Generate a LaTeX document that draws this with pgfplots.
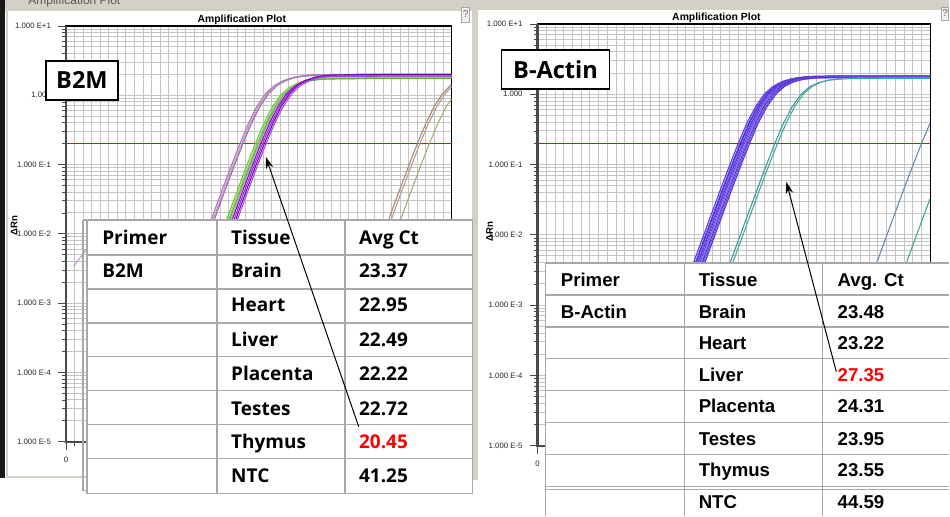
\documentclass[border=0pt]{standalone}
\usepackage{fontspec}
\setmainfont{Liberation Sans}
\newfontfamily\osans{Open Sans}
\usepackage{pgfplots}
\pgfplotsset{compat=1.18}
\usetikzlibrary{arrows.meta}

\definecolor{gridgrey}{HTML}{C4C4C4}
\definecolor{face}{HTML}{D4D0C8}
\definecolor{tabline}{HTML}{A8A8A8}
\definecolor{axisdark}{HTML}{4A4A4A}
\definecolor{thA}{HTML}{A878B0}
\definecolor{thB}{HTML}{C098C8}
\definecolor{thC}{HTML}{9868A4}
\definecolor{grA}{HTML}{6CC43C}
\definecolor{grB}{HTML}{8CD25C}
\definecolor{grC}{HTML}{58B030}
\definecolor{gyA}{HTML}{B0A8B8}
\definecolor{puA}{HTML}{8A10C8}
\definecolor{puB}{HTML}{9B2FD6}
\definecolor{puC}{HTML}{7A06B8}
\definecolor{puD}{HTML}{A64AD8}
\definecolor{brA}{HTML}{A88878}
\definecolor{brB}{HTML}{B89A90}
\definecolor{olA}{HTML}{A8B070}
\definecolor{blA}{HTML}{5B3BE0}
\definecolor{blB}{HTML}{6A48EC}
\definecolor{blC}{HTML}{4A2CD0}
\definecolor{blD}{HTML}{7A58F0}
\definecolor{blE}{HTML}{5540D8}
\definecolor{blF}{HTML}{6E3EE0}
\definecolor{blG}{HTML}{8066F0}
\definecolor{blH}{HTML}{4838C8}
\definecolor{blI}{HTML}{7050E8}
\definecolor{blJ}{HTML}{5F30D8}
\definecolor{tlA}{HTML}{3A9C9A}
\definecolor{tlB}{HTML}{48A8A0}
\definecolor{slA}{HTML}{6A88A8}
\definecolor{tlC}{HTML}{40A890}

\begin{document}
\begin{tikzpicture}
% ---------------- window chrome ----------------
\begin{scope}[x=0.5pt,y=0.5pt]
  \fill[white] (0,0) rectangle (950,516);
  \fill[black!90] (0,38) rectangle (5,516);
  \fill[face] (5,505) rectangle (472,516);
  \begin{scope}
    \clip (5,505) rectangle (472,516);
    \node[overlay, anchor=base west, inner sep=0pt, font=\fontsize{6}{6}\selectfont, text=black!65] at (28,511) {Amplification Plot};
  \end{scope}
  \draw[face, line width=1pt] (7,38) -- (7,505);
  \draw[face, line width=1pt] (7,38.5) -- (472,38.5);
  \fill[black!6] (462,494) rectangle (470,509);
  \draw[black!35, line width=0.4pt] (462,494) rectangle (470,509);
  \node[overlay, inner sep=0pt, font=\fontsize{5}{5}\selectfont, text=black!60] at (466,501.5) {?};
  \fill[face] (472,36) rectangle (478,516);
  \fill[face] (478,506) rectangle (950,516);
  \fill[black!6] (942,496) rectangle (949.6,509);
  \draw[black!35, line width=0.4pt] (942,496) rectangle (949.6,509);
  \node[overlay, inner sep=0pt, font=\fontsize{5}{5}\selectfont, text=black!60] at (946,502.5) {?};
\end{scope}

% ---------------- B2M amplification plot ----------------
\begin{semilogyaxis}[
    scale only axis, anchor=south west, at={(33pt,37pt)}, width=193pt, height=208pt,
    xmin=0, xmax=45, ymin=1e-5, ymax=10,
    xtick={0}, xticklabels={0},
    minor xtick={1,2,...,45},
    ytick={1e-5,1e-4,1e-3,1e-2,1e-1,1,10},
    yticklabels={1.000 E-5,1.000 E-4,1.000 E-3,1.000 E-2,1.000 E-1,1.000,1.000 E+1},
    minor ytick={2e-5,3e-5,4e-5,5e-5,6e-5,7e-5,8e-5,9e-5,2e-4,3e-4,4e-4,5e-4,6e-4,7e-4,8e-4,9e-4,2e-3,3e-3,4e-3,5e-3,6e-3,7e-3,8e-3,9e-3,2e-2,3e-2,4e-2,5e-2,6e-2,7e-2,8e-2,9e-2,0.2,0.3,0.4,0.5,0.6,0.7,0.8,0.9,2,3,4,5,6,7,8,9},
    xmajorgrids=true, xminorgrids=true, ymajorgrids=true, yminorgrids=true,
    major grid style={gridgrey, line width=0.5pt},
    minor grid style={gridgrey, line width=0.5pt},
    tick pos=left, tick align=outside,
    major tick length=4pt, minor tick length=2pt,
    tick style={axisdark, line width=0.4pt},
    tick label style={font=\fontsize{3.9}{4}\selectfont, text=black!85},
    axis line style={black, line width=0.6pt},
    clip mode=individual,
    every axis plot/.append style={line width=0.55pt, mark=none},
  ]
\addplot[draw=red, color=red, line width=0.8pt] coordinates {(0,0.2)(45,0.2)};
\addplot[color=thC] coordinates {(8.65,1.85e-5)(10.65,8.9e-5)(12.65,4.2e-4)(14.65,2.03e-3)(16.65,9.66e-3)(18.65,0.0454)(19.65,0.0966)(20.65,0.2)(21.65,0.392)(22.65,0.695)(23.65,1.06)(24.65,1.38)(25.65,1.62)(26.65,1.8)(27.65,1.9)(28.65,1.96)(30.65,1.99)(34.65,2.01)(45,2.02)};
\addplot[color=thB] coordinates {(8.5,1.85e-5)(10.5,8.9e-5)(12.5,4.2e-4)(14.5,2.03e-3)(16.5,9.66e-3)(18.5,0.0454)(19.5,0.0966)(20.5,0.2)(21.5,0.392)(22.5,0.695)(23.5,1.06)(24.5,1.36)(25.5,1.6)(26.5,1.76)(27.5,1.85)(28.5,1.9)(30.5,1.94)(34.5,1.96)(45,1.97)};
\addplot[color=thA] coordinates {(8.3,1.85e-5)(10.3,8.9e-5)(12.3,4.2e-4)(14.3,2.03e-3)(16.3,9.66e-3)(18.3,0.0454)(19.3,0.0966)(20.3,0.2)(21.3,0.392)(22.3,0.695)(23.3,1.06)(24.3,1.37)(25.3,1.61)(26.3,1.78)(27.3,1.88)(28.3,1.93)(30.3,1.97)(34.3,1.99)(45,2.0)};
\addplot[color=thB] coordinates {(0.9,0.0034)(2.5,0.0062)};
\addplot[color=grA] coordinates {(10.1,1.85e-5)(12.1,8.9e-5)(14.1,4.2e-4)(16.1,2.03e-3)(18.1,9.66e-3)(20.1,0.0454)(21.1,0.0966)(22.1,0.2)(23.1,0.392)(24.1,0.68)(25.1,1.02)(26.1,1.31)(27.1,1.5)(28.1,1.62)(29.1,1.69)(30.1,1.72)(32.1,1.74)(36.1,1.75)(45,1.76)};
\addplot[color=grB] coordinates {(10.3,1.85e-5)(12.3,8.9e-5)(14.3,4.2e-4)(16.3,2.03e-3)(18.3,9.66e-3)(20.3,0.0454)(21.3,0.0966)(22.3,0.2)(23.3,0.392)(24.3,0.68)(25.3,1.03)(26.3,1.33)(27.3,1.54)(28.3,1.66)(29.3,1.73)(30.3,1.76)(32.3,1.78)(36.3,1.79)(45,1.8)};
\addplot[color=grC] coordinates {(10.45,1.85e-5)(12.45,8.9e-5)(14.45,4.2e-4)(16.45,2.03e-3)(18.45,9.66e-3)(20.45,0.0454)(21.45,0.0966)(22.45,0.2)(23.45,0.392)(24.45,0.68)(25.45,1.02)(26.45,1.3)(27.45,1.5)(28.45,1.61)(29.45,1.68)(30.45,1.71)(32.45,1.73)(36.45,1.74)(45,1.74)};
\addplot[color=gyA] coordinates {(10.6,1.85e-5)(12.6,8.9e-5)(14.6,4.2e-4)(16.6,2.03e-3)(18.6,9.66e-3)(20.6,0.0454)(21.6,0.0966)(22.6,0.2)(23.6,0.392)(24.6,0.69)(25.6,1.04)(26.6,1.35)(27.6,1.57)(28.6,1.71)(29.6,1.78)(30.6,1.82)(32.6,1.84)(36.6,1.85)(45,1.85)};
\addplot[color=puA] coordinates {(10.75,1.85e-5)(12.75,8.9e-5)(14.75,4.2e-4)(16.75,2.03e-3)(18.75,9.66e-3)(20.75,0.0454)(21.75,0.0966)(22.75,0.2)(23.75,0.392)(24.75,0.69)(25.75,1.05)(26.75,1.37)(27.75,1.6)(28.75,1.75)(29.75,1.83)(30.75,1.87)(32.75,1.89)(36.75,1.9)(45,1.9)};
\addplot[color=puB] coordinates {(10.95,1.85e-5)(12.95,8.9e-5)(14.95,4.2e-4)(16.95,2.03e-3)(18.95,9.66e-3)(20.95,0.0454)(21.95,0.0966)(22.95,0.2)(23.95,0.392)(24.95,0.69)(25.95,1.06)(26.95,1.39)(27.95,1.63)(28.95,1.79)(29.95,1.87)(30.95,1.91)(32.95,1.93)(36.95,1.94)(45,1.94)};
\addplot[color=puC] coordinates {(11.15,1.85e-5)(13.15,8.9e-5)(15.15,4.2e-4)(17.15,2.03e-3)(19.15,9.66e-3)(21.15,0.0454)(22.15,0.0966)(23.15,0.2)(24.15,0.392)(25.15,0.7)(26.15,1.07)(27.15,1.41)(28.15,1.66)(29.15,1.83)(30.15,1.92)(31.15,1.96)(33.15,1.98)(37.15,1.99)(45,1.99)};
\addplot[color=puD] coordinates {(11.35,1.85e-5)(13.35,8.9e-5)(15.35,4.2e-4)(17.35,2.03e-3)(19.35,9.66e-3)(21.35,0.0454)(22.35,0.0966)(23.35,0.2)(24.35,0.392)(25.35,0.69)(26.35,1.05)(27.35,1.37)(28.35,1.61)(29.35,1.77)(30.35,1.85)(31.35,1.89)(33.35,1.91)(37.35,1.92)(45,1.92)};
\addplot[color=brA] coordinates {(29,1.85e-5)(31,8.9e-5)(33,4.2e-4)(35,2.03e-3)(37,9.66e-3)(39,0.0454)(40,0.0966)(41,0.2)(42,0.392)(43,0.695)(44,1.077)(45,1.436)};
\addplot[color=brB] coordinates {(29.3,1.85e-5)(31.3,8.9e-5)(33.3,4.2e-4)(35.3,2.03e-3)(37.3,9.66e-3)(39.3,0.0454)(40.3,0.0966)(41.3,0.2)(42.3,0.392)(43.3,0.695)(44.3,1.077)(45,1.33)};
\addplot[color=olA] coordinates {(30.4,1.85e-5)(32.4,8.9e-5)(34.4,4.2e-4)(36.4,2.03e-3)(38.4,9.66e-3)(40.4,0.0454)(41.4,0.0966)(42.4,0.2)(43.4,0.392)(44.4,0.695)(45,0.88)};
\draw[axisdark, line width=1.1pt] (rel axis cs:0,1) -- (rel axis cs:0,0) -- (rel axis cs:1,0);
\end{semilogyaxis}

% ---------------- B-Actin amplification plot ----------------
\begin{semilogyaxis}[
    scale only axis, anchor=south west, at={(269pt,35pt)}, width=196.5pt, height=211pt,
    xmin=0, xmax=45, ymin=1e-5, ymax=10,
    xtick={0}, xticklabels={0},
    minor xtick={1,2,...,45},
    ytick={1e-5,1e-4,1e-3,1e-2,1e-1,1,10},
    yticklabels={1.000 E-5,1.000 E-4,1.000 E-3,1.000 E-2,1.000 E-1,1.000,1.000 E+1},
    minor ytick={2e-5,3e-5,4e-5,5e-5,6e-5,7e-5,8e-5,9e-5,2e-4,3e-4,4e-4,5e-4,6e-4,7e-4,8e-4,9e-4,2e-3,3e-3,4e-3,5e-3,6e-3,7e-3,8e-3,9e-3,2e-2,3e-2,4e-2,5e-2,6e-2,7e-2,8e-2,9e-2,0.2,0.3,0.4,0.5,0.6,0.7,0.8,0.9,2,3,4,5,6,7,8,9},
    xmajorgrids=true, xminorgrids=true, ymajorgrids=true, yminorgrids=true,
    major grid style={gridgrey, line width=0.5pt},
    minor grid style={gridgrey, line width=0.5pt},
    tick pos=left, tick align=outside,
    major tick length=4pt, minor tick length=2pt,
    tick style={axisdark, line width=0.4pt},
    tick label style={font=\fontsize{3.9}{4}\selectfont, text=black!85},
    axis line style={black, line width=0.6pt},
    clip mode=individual,
    every axis plot/.append style={line width=0.55pt, mark=none},
  ]
\addplot[draw=red, color=red, line width=0.8pt] coordinates {(0,0.2)(45,0.2)};
\addplot[color=blA] coordinates {(11,1.85e-5)(13,8.9e-5)(15,4.2e-4)(17,2.03e-3)(19,9.66e-3)(21,0.0454)(22,0.0966)(23,0.2)(24,0.392)(25,0.67)(26,1.01)(27,1.3)(28,1.51)(29,1.64)(30,1.71)(31,1.75)(33,1.77)(37,1.78)(45,1.79)};
\addplot[color=blB] coordinates {(11.2,1.85e-5)(13.2,8.9e-5)(15.2,4.2e-4)(17.2,2.03e-3)(19.2,9.66e-3)(21.2,0.0454)(22.2,0.0966)(23.2,0.2)(24.2,0.392)(25.2,0.68)(26.2,1.02)(27.2,1.32)(28.2,1.54)(29.2,1.67)(30.2,1.74)(31.2,1.78)(33.2,1.8)(37.2,1.81)(45,1.81)};
\addplot[color=blC] coordinates {(11.3,1.85e-5)(13.3,8.9e-5)(15.3,4.2e-4)(17.3,2.03e-3)(19.3,9.66e-3)(21.3,0.0454)(22.3,0.0966)(23.3,0.2)(24.3,0.392)(25.3,0.67)(26.3,1.0)(27.3,1.29)(28.3,1.49)(29.3,1.62)(30.3,1.69)(31.3,1.73)(33.3,1.75)(37.3,1.76)(45,1.76)};
\addplot[color=blD] coordinates {(11.45,1.85e-5)(13.45,8.9e-5)(15.45,4.2e-4)(17.45,2.03e-3)(19.45,9.66e-3)(21.45,0.0454)(22.45,0.0966)(23.45,0.2)(24.45,0.392)(25.45,0.67)(26.45,1.0)(27.45,1.28)(28.45,1.48)(29.45,1.6)(30.45,1.67)(31.45,1.71)(33.45,1.73)(37.45,1.74)(45,1.74)};
\addplot[color=blE] coordinates {(11.55,1.85e-5)(13.55,8.9e-5)(15.55,4.2e-4)(17.55,2.03e-3)(19.55,9.66e-3)(21.55,0.0454)(22.55,0.0966)(23.55,0.2)(24.55,0.392)(25.55,0.68)(26.55,1.03)(27.55,1.33)(28.55,1.55)(29.55,1.69)(30.55,1.76)(31.55,1.8)(33.55,1.82)(37.55,1.83)(45,1.83)};
\addplot[color=blF] coordinates {(11.7,1.85e-5)(13.7,8.9e-5)(15.7,4.2e-4)(17.7,2.03e-3)(19.7,9.66e-3)(21.7,0.0454)(22.7,0.0966)(23.7,0.2)(24.7,0.392)(25.7,0.67)(26.7,1.01)(27.7,1.3)(28.7,1.51)(29.7,1.64)(30.7,1.71)(31.7,1.74)(33.7,1.76)(37.7,1.77)(45,1.77)};
\addplot[color=blG] coordinates {(11.85,1.85e-5)(13.85,8.9e-5)(15.85,4.2e-4)(17.85,2.03e-3)(19.85,9.66e-3)(21.85,0.0454)(22.85,0.0966)(23.85,0.2)(24.85,0.392)(25.85,0.66)(26.85,0.99)(27.85,1.27)(28.85,1.46)(29.85,1.58)(30.85,1.65)(31.85,1.69)(33.85,1.71)(37.85,1.72)(45,1.72)};
\addplot[color=blH] coordinates {(12,1.85e-5)(14,8.9e-5)(16,4.2e-4)(18,2.03e-3)(20,9.66e-3)(22,0.0454)(23,0.0966)(24,0.2)(25,0.392)(26,0.68)(27,1.02)(28,1.32)(29,1.54)(30,1.67)(31,1.74)(32,1.78)(34,1.8)(38,1.81)(45,1.81)};
\addplot[color=blI] coordinates {(12.15,1.85e-5)(14.15,8.9e-5)(16.15,4.2e-4)(18.15,2.03e-3)(20.15,9.66e-3)(22.15,0.0454)(23.15,0.0966)(24.15,0.2)(25.15,0.392)(26.15,0.67)(27.15,1.01)(28.15,1.3)(29.15,1.51)(30.15,1.64)(31.15,1.71)(32.15,1.75)(34.15,1.77)(38.15,1.78)(45,1.78)};
\addplot[color=blJ] coordinates {(12.3,1.85e-5)(14.3,8.9e-5)(16.3,4.2e-4)(18.3,2.03e-3)(20.3,9.66e-3)(22.3,0.0454)(23.3,0.0966)(24.3,0.2)(25.3,0.392)(26.3,0.67)(27.3,1.0)(28.3,1.29)(29.3,1.49)(30.3,1.62)(31.3,1.69)(32.3,1.73)(34.3,1.75)(38.3,1.76)(45,1.76)};
\addplot[color=tlA] coordinates {(15.2,1.85e-5)(17.2,8.9e-5)(19.2,4.2e-4)(21.2,2.03e-3)(23.2,9.66e-3)(25.2,0.0454)(26.2,0.0966)(27.2,0.2)(28.2,0.392)(29.2,0.67)(30.2,1.0)(31.2,1.28)(32.2,1.46)(33.2,1.57)(34.2,1.63)(35.2,1.66)(37.2,1.68)(41.2,1.69)(45,1.69)};
\addplot[color=tlB] coordinates {(15.5,1.85e-5)(17.5,8.9e-5)(19.5,4.2e-4)(21.5,2.03e-3)(23.5,9.66e-3)(25.5,0.0454)(26.5,0.0966)(27.5,0.2)(28.5,0.392)(29.5,0.68)(30.5,1.02)(31.5,1.3)(32.5,1.49)(33.5,1.6)(34.5,1.66)(35.5,1.69)(37.5,1.71)(41.5,1.72)(45,1.72)};
\addplot[color=slA] coordinates {(32,1.85e-5)(34,8.9e-5)(36,4.2e-4)(38,2.03e-3)(40,9.66e-3)(42,0.0454)(43,0.0966)(44,0.2)(45,0.392)};
\addplot[color=tlC] coordinates {(35.4,1.85e-5)(37.4,8.9e-5)(39.4,4.2e-4)(41.4,2.03e-3)(43.4,9.66e-3)(45,0.033)};
\draw[axisdark, line width=1.1pt] (rel axis cs:0,1) -- (rel axis cs:0,0) -- (rel axis cs:1,0);
\end{semilogyaxis}

% ---------------- overlays ----------------
\begin{scope}[x=0.5pt,y=0.5pt]
  \node[font=\bfseries\fontsize{5.2}{5.2}\selectfont] at (242,496) {Amplification Plot};
  \node[font=\bfseries\fontsize{5.2}{5.2}\selectfont] at (717,498.5) {Amplification Plot};
  \node[rotate=90, font=\bfseries\fontsize{4.8}{4.8}\selectfont] at (14,290) {ΔRn};
  \node[rotate=90, font=\bfseries\fontsize{4.8}{4.8}\selectfont] at (490,284) {ΔRn};

  \draw[draw=black, fill=white, line width=0.6pt] (46,455) rectangle (118,416);
  \node[text=black, font=\osans\bfseries\fontsize{11.8}{12}\selectfont] at (82,435.5) {B2M};
  \draw[draw=black, fill=white, line width=0.6pt] (502,466) rectangle (610,427);
  \node[text=black, font=\osans\bfseries\fontsize{11.8}{12}\selectfont] at (556,446.5) {B-Actin};

  % ---- B2M table ----
  \draw[tabline, line width=0.8pt] (83,296) -- (83,25) -- (470,25);
  \fill[white] (87,296) rectangle (473,22);
  \draw[tabline, line width=0.8pt] (83,296) -- (473,296);
  \foreach \yy in {261,227,193,159,125,91,57,22}
    \draw[tabline, line width=0.8pt] (87,\yy) -- (473,\yy);
  \foreach \xx in {87,217,345,473}
    \draw[tabline, line width=0.8pt] (\xx,296) -- (\xx,22);
  \begin{scope}[every node/.style={anchor=base west, inner sep=0pt, font=\osans\bfseries\fontsize{9.5}{10}\selectfont}]
    \node at (102,271) {Primer};
    \node at (231,271) {Tissue};
    \node at (359,271) {Avg Ct};
    \node at (102,238) {B2M};
    \node at (231,238) {Brain};    \node at (359,238) {23.37};
    \node at (231,204) {Heart};    \node at (359,204) {22.95};
    \node at (231,169) {Liver};    \node at (359,169) {22.49};
    \node at (231,135) {Placenta}; \node at (359,135) {22.22};
    \node at (231,100) {Testes};   \node at (359,100) {22.72};
    \node at (231,67)  {Thymus};   \node[text=red] at (359,67) {20.45};
    \node at (231,33)  {NTC};      \node at (359,33) {41.25};
  \end{scope}

  % ---- B-Actin table ----
  \fill[white] (546,0) rectangle (950,253);
  \foreach \yy in {253,221,189,157,125,93,61,29,26}
    \draw[tabline, line width=0.8pt] (546,\yy) -- (950,\yy);
  \foreach \xx in {546,685,823}
    \draw[tabline, line width=0.8pt] (\xx,253) -- (\xx,0);
  \begin{scope}[every node/.style={anchor=base west, inner sep=0pt, font=\bfseries\fontsize{9.3}{10}\selectfont}]
    \node at (561,229) {Primer};
    \node at (699,229) {Tissue};
    \node at (838,229) {Avg. Ct};
    \node at (561,197) {B-Actin};
    \node at (699,197) {Brain};    \node at (838,197) {23.48};
    \node at (699,166) {Heart};    \node at (838,166) {23.22};
    \node at (699,134) {Liver};    \node[text=red] at (838,134) {27.35};
    \node at (699,103) {Placenta}; \node at (838,103) {24.31};
    \node at (699,70)  {Testes};   \node at (838,70) {23.95};
    \node at (699,39)  {Thymus};   \node at (838,39) {23.55};
    \node at (699,7)   {NTC};      \node at (838,7) {44.59};
  \end{scope}

  \draw[black, line width=0.5pt, -{Stealth[length=6pt,width=3.8pt]}] (359,89) -- (266,359);
  \draw[black, line width=0.5pt, -{Stealth[length=6pt,width=3.8pt]}] (837,144) -- (787,334);
\end{scope}
\end{tikzpicture}
\end{document}
